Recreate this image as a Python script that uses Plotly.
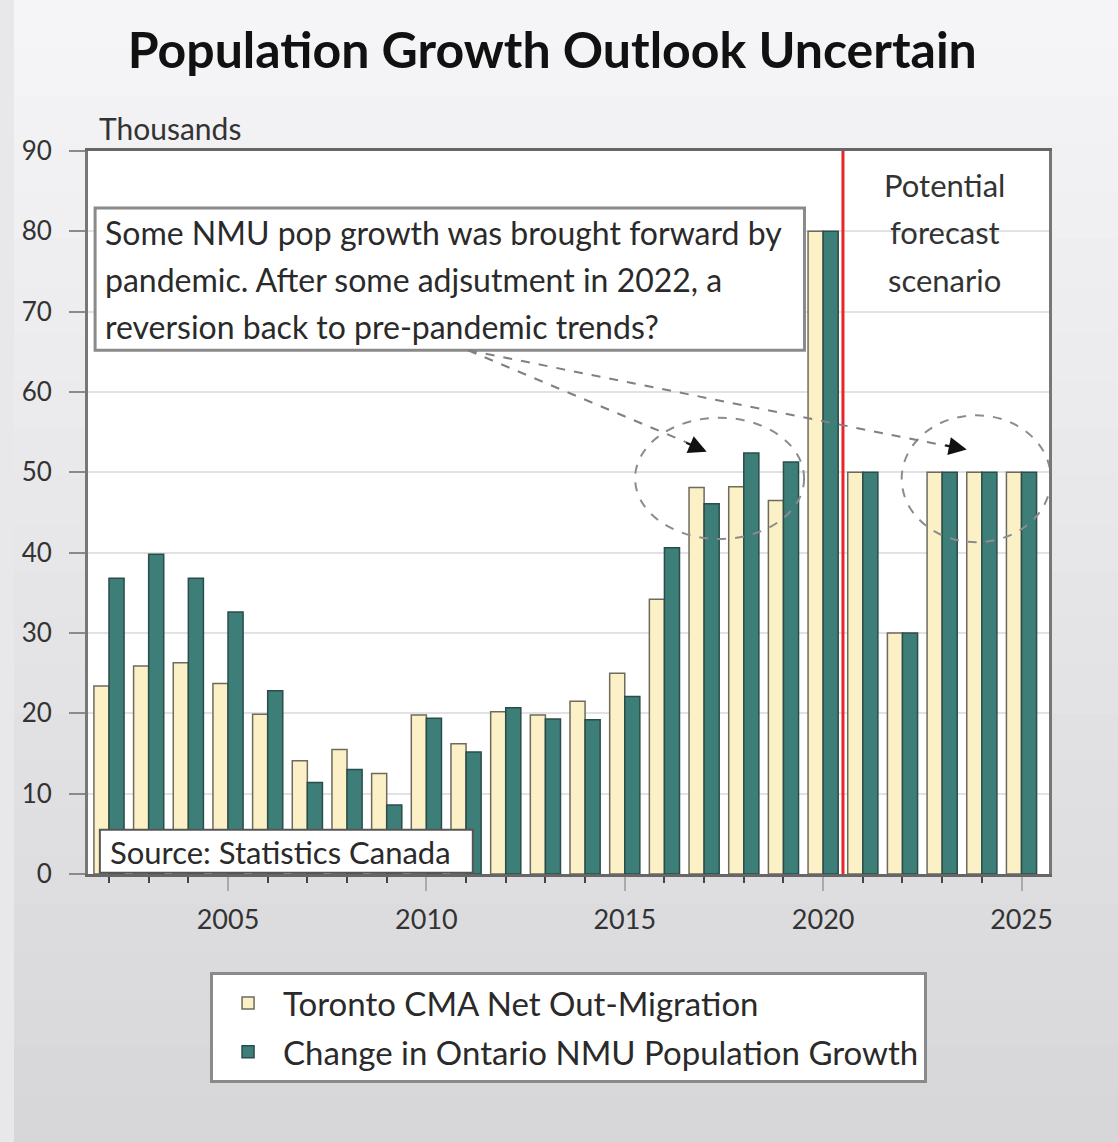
import plotly.graph_objects as go

years = list(range(2002, 2026))
toronto_out = [23.4, 25.9, 26.3, 23.7, 19.9, 14.1, 15.5, 12.5, 19.8, 16.2,
               20.2, 19.8, 21.5, 25.0, 34.2, 48.1, 48.2, 46.5, 80.0, 50.0,
               30.0, 50.0, 50.0, 50.0]
ontario_nmu = [36.8, 39.8, 36.8, 32.6, 22.8, 11.4, 13.0, 8.6, 19.4, 15.2,
               20.7, 19.3, 19.2, 22.1, 40.6, 46.1, 52.4, 51.3, 80.0, 50.0,
               30.0, 50.0, 50.0, 50.0]
series_names = ["Toronto CMA Net Out-Migration", "Change in Ontario NMU Population Growth"]
major_ticks = [2005, 2010, 2015, 2020, 2025]
y_ticks = list(range(0, 100, 10))

FONT = "Lato"
CREAM = "#fcf1c6"
TEAL = "#3d7e78"

fig = go.Figure()
fig.add_trace(go.Bar(x=years, y=toronto_out, name=series_names[0], legendgroup="a",
                     marker=dict(color=CREAM, line=dict(color="#6e6a5e", width=1.5))))
fig.add_trace(go.Bar(x=years, y=ontario_nmu, name=series_names[1], legendgroup="b",
                     marker=dict(color=TEAL, line=dict(color="#2b4d49", width=1.5))))

shapes = []
# gradient background bands (paper coordinates covering whole figure)
n = 24
ytop, ybot = 1.2089, -0.3707
c_top = (245, 245, 247)
c_bot = (215, 215, 218)
for i in range(n):
    t = i / (n - 1)
    col = tuple(int(round(c_top[k] + (c_bot[k] - c_top[k]) * t)) for k in range(3))
    y1 = ytop - (ytop - ybot) * i / n
    y0 = ytop - (ytop - ybot) * (i + 1) / n
    shapes.append(dict(type="rect", xref="paper", yref="paper", x0=-0.077, x1=1.072,
                       y0=y0 - 0.002, y1=y1, fillcolor="rgb(%d,%d,%d)" % col,
                       line=dict(width=0), layer="below"))
# white plot area
shapes.append(dict(type="rect", xref="paper", yref="paper", x0=0, x1=1, y0=0, y1=1,
                   fillcolor="white", line=dict(width=0), layer="below"))
# red divider
shapes.append(dict(type="line", xref="x", yref="y", x0=2020.5, x1=2020.5, y0=0, y1=90,
                   line=dict(color="#e8262a", width=3), layer="above"))
# NMU comment box
shapes.append(dict(type="rect", xref="x", yref="y", x0=2001.65, x1=2019.53, y0=65.2, y1=82.9,
                   fillcolor="white", line=dict(color="#8a8a8a", width=3), layer="above"))
# ellipses
shapes.append(dict(type="circle", xref="x", yref="y", x0=2015.26, x1=2019.52, y0=41.7, y1=56.8,
                   line=dict(color="#8c8c8c", width=2, dash="dash"), layer="above"))
shapes.append(dict(type="circle", xref="x", yref="y", x0=2021.98, x1=2025.74, y0=41.3, y1=57.1,
                   line=dict(color="#8c8c8c", width=2, dash="dash"), layer="above"))
# dashed arrow shafts
for (xe, ye) in [(2017.0, 52.8), (2023.5, 52.9)]:
    shapes.append(dict(type="line", xref="x", yref="y", x0=2011.05, y0=65.2, x1=xe, y1=ye,
                       line=dict(color="#808080", width=2, dash="dash"), layer="above"))
# source box
shapes.append(dict(type="rect", xref="x", yref="y", x0=2001.77, x1=2011.17, y0=0.15, y1=5.5,
                   fillcolor="white", line=dict(color="#555555", width=2), layer="above"))

annotations = []
annotations.append(dict(text="Thousands", xref="paper", yref="paper", x=0.0094, y=1.032,
                        xanchor="left", yanchor="middle", showarrow=False,
                        font=dict(family=FONT, size=30, color="#333333")))
for txt, yv in [("Some NMU pop growth was brought forward by", 79.9),
                ("pandemic. After some adjsutment in 2022, a", 74.0),
                ("reversion back to pre-pandemic trends?", 68.1)]:
    annotations.append(dict(text=txt, xref="x", yref="y", x=2001.85, y=yv, xanchor="left",
                            yanchor="middle", showarrow=False,
                            font=dict(family=FONT, size=32, color="#2a2a2a")))
for txt, yv in [("Potential", 85.8), ("forecast", 79.9), ("scenario", 73.9)]:
    annotations.append(dict(text=txt, xref="x", yref="y", x=2023.07, y=yv, xanchor="center",
                            yanchor="middle", showarrow=False,
                            font=dict(family=FONT, size=31, color="#333333")))
annotations.append(dict(text="Source: Statistics Canada", xref="x", yref="y", x=2001.98, y=2.8,
                        xanchor="left", yanchor="middle", showarrow=False,
                        font=dict(family=FONT, size=31, color="#2a2a2a")))
# arrow heads
for (xe, ye, ax, ay) in [(2017.065, 52.57, -22, -9.4), (2023.62, 52.83, -23, -4.6)]:
    annotations.append(dict(text="", xref="x", yref="y", x=xe, y=ye, ax=ax, ay=ay,
                            showarrow=True, arrowhead=2, arrowsize=1.8, arrowwidth=2,
                            arrowcolor="#111111", standoff=0))

fig.update_layout(
    width=1118, height=1142,
    margin=dict(l=88, r=69, t=151, b=268),
    paper_bgcolor="#e8e8ea", plot_bgcolor="white",
    font=dict(family=FONT, color="#222222"),
    title=dict(text="<b>Population Growth Outlook Uncertain</b>", x=0.494, xanchor="center",
               y=1 - 50 / 1142, yanchor="middle",
               font=dict(family=FONT, size=50, color="#111111")),
    barmode="group", bargap=0.24, bargroupgap=0.0,
    showlegend=True,
    legend=dict(x=0.127, y=-0.1355, xanchor="left", yanchor="top",
                bgcolor="white", bordercolor="#8a8a8a", borderwidth=3,
                font=dict(family=FONT, size=33, color="#2a2a2a"),
                itemwidth=60, traceorder="grouped", tracegroupgap=3),
    shapes=shapes, annotations=annotations,
)
fig.update_xaxes(range=[2001.471, 2025.693], tickmode="array", tickvals=major_ticks,
                 ticktext=[str(v) for v in major_ticks], ticks="outside", ticklen=14,
                 tickwidth=2, tickcolor="#aaaaaa", showgrid=False, ticklabelstandoff=6,
                 showline=True, linecolor="#666666", linewidth=3, mirror=True,
                 tickfont=dict(family=FONT, size=27, color="#333333"),
                 minor=dict(tickmode="linear", tick0=2002, dtick=1, ticks="outside",
                            ticklen=6, tickwidth=2, tickcolor="#444444", showgrid=False))
fig.update_yaxes(range=[0, 90], tickmode="array", tickvals=y_ticks, ticks="outside",
                 ticklen=16, tickwidth=2, tickcolor="#8a8a8a", ticklabelstandoff=12,
                 showgrid=True, gridcolor="#e2e2e4", gridwidth=2, zeroline=False,
                 showline=True, linecolor="#777777", linewidth=3, mirror=True,
                 tickfont=dict(family=FONT, size=26, color="#333333"))

fig.write_html("out.html", config={"displayModeBar": False},
               post_script="document.body.style.margin='0';")
